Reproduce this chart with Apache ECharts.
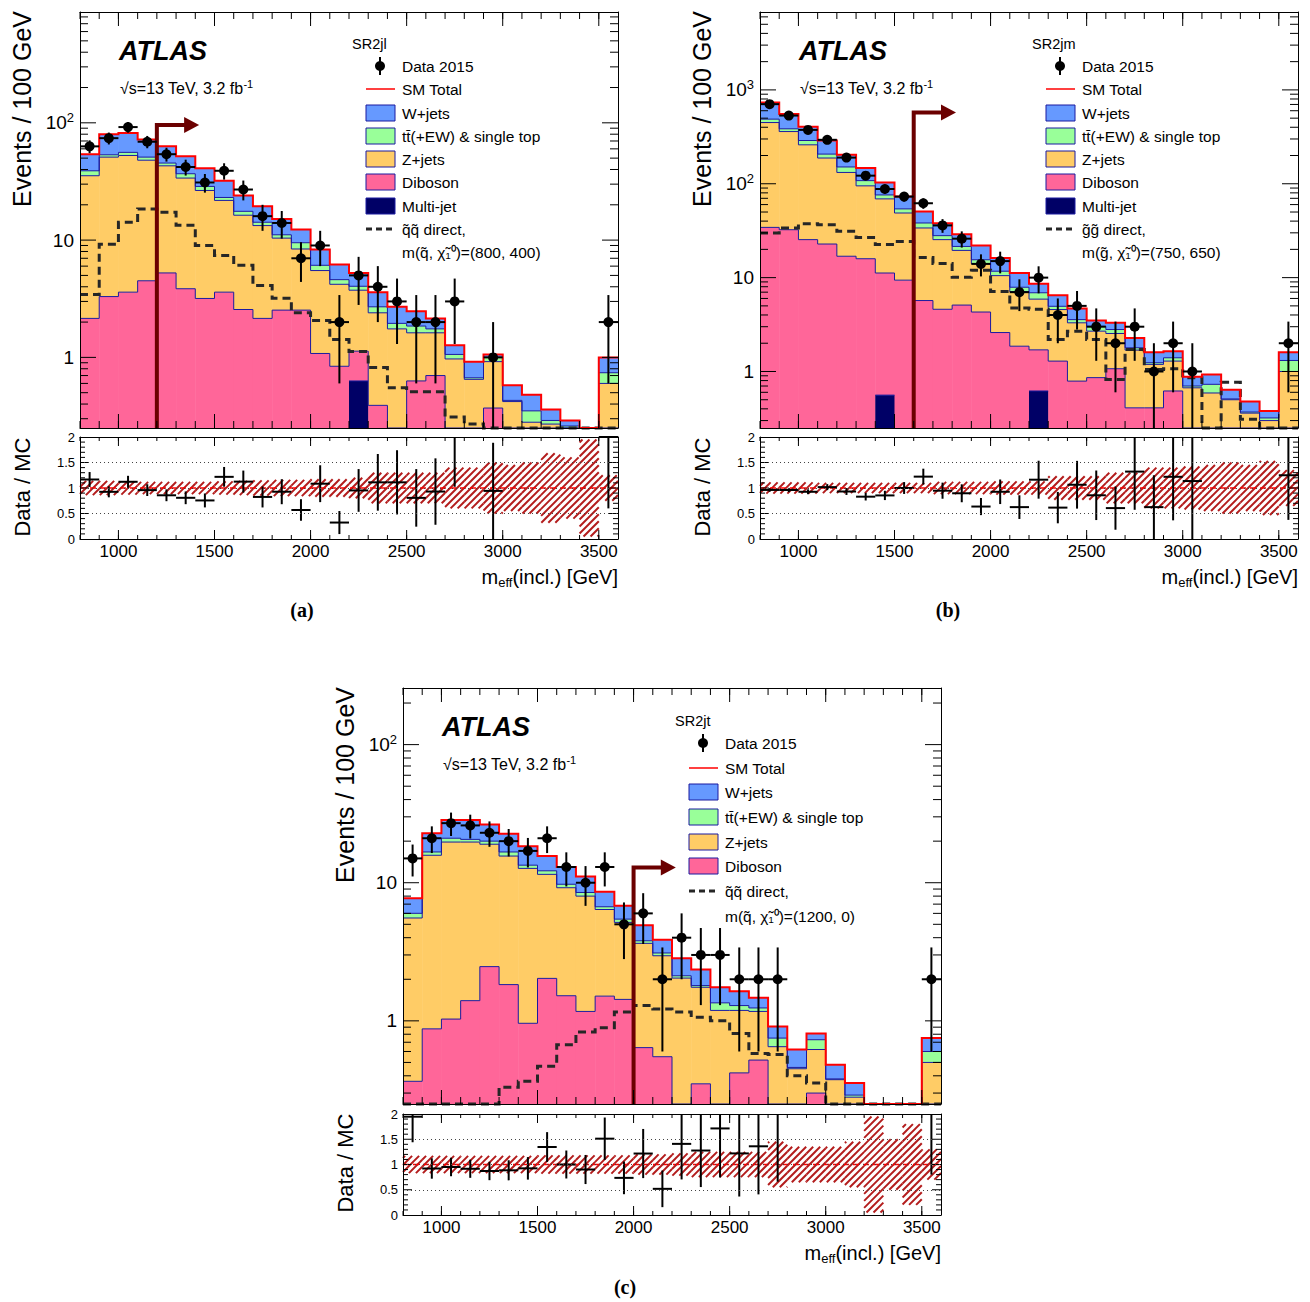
<!DOCTYPE html>
<html><head><meta charset="utf-8">
<script src="https://cdn.jsdelivr.net/npm/echarts@6/dist/echarts.min.js"></script>
<style>html,body{margin:0;padding:0;background:#fff}#c{width:1310px;height:1302px}</style>
</head><body><div id="c"></div>
<script>
// ---------- binning / ticks ----------
const binLow = [800,900,1000,1100,1200,1300,1400,1500,1600,1700,1800,1900,2000,2100,2200,2300,2400,2500,2600,2700,2800,2900,3000,3100,3200,3300,3400,3500];
const binWidth = 100;
const xTickLabels = [1000,1500,2000,2500,3000,3500];
const ratioTickLabels = [0,0.5,1,1.5,2];

// ---------- (a) SR2jl ----------
const a_data = [63,74,92,69,54,42,31,39,27,16,14,7,9,2,5,4,3,2,2,3,0,1,0,0,0,0,0,2];
const a_dataErr = [7.9,8.6,9.6,8.3,7.3,6.5,5.6,6.2,5.2,4,3.7,2.6,3,1.4,2.2,2,1.7,1.4,1.4,1.7,0,1,0,0,0,0,0,1.4];
const a_wjets = [15,26.6,26,21,17.6,15.2,12.3,8.9,6.4,5.2,4.0,2.8,2.2,1.6,1.21,0.9,0.75,0.63,0.4,0.21,0.25,0.06,0.15,0.13,0.07,0.03,0.04,0.26];
const a_ttbar = [3.6,2.4,3.3,3,2.4,3,2.2,1.3,1.3,0.9,0.7,1.1,0.6,0.4,0.3,0.3,0.2,0.23,0.13,0.09,0.02,0.08,0.01,0.07,0.02,0.01,0,0.14];
const a_zjets = [33.25,47.7,49.1,43.5,37.75,29.95,23.32,18.2,13.74,11.15,7.87,5.87,4.42,3.36,2.61,2.01,1.75,0.99,0.92,0.97,0.65,0.55,0.42,0.28,0.27,0.25,0.2,0.6];
const a_diboson = [2.15,3.3,3.6,4.5,5.25,3.85,3.18,3.6,2.56,2.15,2.53,2.53,1.08,0.84,0.5,0.39,0,0.63,0.7,0,0,0.37,0,0,0,0,0,0];
const a_multijet = [0,0,0,0,0,0,0,0,0,0,0,0,0,0,0.63,0,0,0,0,0,0,0,0,0,0,0,0,0];
const a_signal = [3.44,9.2,14.2,18.4,17.3,13.4,9.0,7.4,6.1,4.1,3.2,2.4,2.06,1.42,1.12,0.82,0.55,0.51,0.51,0.31,0.27,0.24,0.2,0.2,0.2,0.2,0.2,0.2];
const a_bandHalf = [0.14,0.14,0.13,0.12,0.12,0.12,0.12,0.13,0.14,0.15,0.16,0.16,0.17,0.17,0.2,0.3,0.3,0.3,0.3,0.4,0.4,0.5,0.45,0.5,0.68,0.6,0.95,0.25];
const a_cut = 1200, a_arrowTop = 96;

// ---------- (b) SR2jm ----------
const b_data = [705,533,375,294,190,122,88,73,62,36,26,14,15,7,10,4,5,3,2,3,1,2,1,0,0,0,0,2];
const b_dataErr = [26.6,23.1,19.4,17.1,13.8,11,9.4,8.5,7.9,6,5.1,3.7,3.9,2.6,3.2,2,2.2,1.7,1.4,1.7,1,1.4,1,0,0,0,0,1.4];
const b_wjets = [245,170,116,82,53,39,27,19,12.5,10,7.5,6.5,4.5,3.3,1.7,1.55,1.13,0.47,0.5,0.48,0.36,0.24,0.18,0.2,0.13,0.11,0.06,0.29];
const b_ttbar = [39,25,29,19,19,13,7,5.2,4.4,2.6,2,1.4,1.2,0.8,1.0,0.38,0.27,0.34,0.26,0.1,0.05,0.11,0.03,0.14,0.01,0.01,0.02,0.31];
const b_zjets = [414.7,327.6,234.6,165.2,115.1,79.1,57.8,39.4,28.1,20.8,14.4,9.8,7.9,5.24,4.2,3.28,2.51,1.83,1.47,1.28,0.78,0.67,0.67,0.59,0.5,0.36,0.3,1.0];
const b_diboson = [34.3,32.4,25.4,22.8,16.9,15.9,10.64,9.4,5.7,4.6,5.1,4.3,2.6,1.86,1.08,1.29,0.79,0.86,1.07,0.41,0.41,0.62,0,0,0,0,0,0];
const b_multijet = [0,0,0,0,0,0,0.56,0,0,0,0,0,0,0,0.62,0,0,0,0,0,0,0,0,0,0,0,0,0];
const b_signal = [29.9,33.8,37.5,36.6,31.1,26.8,22.5,24.3,16.4,14.1,10.1,12,7.1,4.76,4.6,2.19,2.69,2.19,0.82,1.71,1.05,1.07,0.86,0.2,0.77,0.31,0.2,0.2];
const b_bandHalf = [0.11,0.11,0.11,0.1,0.1,0.1,0.1,0.1,0.1,0.12,0.12,0.12,0.13,0.13,0.13,0.23,0.23,0.23,0.3,0.3,0.4,0.4,0.42,0.45,0.5,0.45,0.53,0.35];
const b_cut = 1600, b_arrowTop = 574;

// ---------- (c) SR2jt ----------
const c_data = [15,21,27,26,23,20,17,21,13,10,13,5,6,2,4,3,3,2,2,2,0,0,0,0,0,0,0,2];
const c_dataErr = [3.9,4.6,5.2,5.1,4.8,4.5,4.1,4.6,3.6,3.2,3.6,2.2,2.4,1.4,2,1.7,1.7,1.4,1.4,1.4,0,0,0,0,0,0,0,1.4];
const c_wjets = [1.7,6.1,7.4,7.8,6.4,5.9,5.0,3.4,3.25,2.6,1.9,1.35,1.13,0.76,0.72,0.55,0.4,0.35,0.23,0.16,0.16,0.08,0.1,0.065,0.04,0.02,0.02,0.15];
const c_ttbar = [0.45,0.9,1.3,0.9,1.0,1.1,0.7,0.7,0.55,0.5,0.3,0.29,0.16,0.14,0.08,0.05,0.16,0.1,0.07,0.1,0.01,0.11,0.005,0.01,0,0,0,0.1];
const c_zjets = [5.19,14.93,18.67,18.3,16.53,13.77,11.74,9.47,7.68,6.83,4.89,3.73,3.0,2.41,2.04,1.4,1.19,0.77,0.65,0.65,0.45,0.32,0.375,0.28,0.2,0.2,0.2,0.5];
const c_diboson = [0.365,0.875,1.03,1.4,2.47,1.83,0.96,2.03,1.52,1.17,1.51,1.43,0.64,0.55,0,0.35,0,0.42,0.52,0,0,0.3,0,0,0,0,0,0];
const c_multijet = [0,0,0,0,0,0,0,0,0,0,0,0,0,0,0,0,0,0,0,0,0,0,0,0,0,0,0,0];
const c_signal = [0.2,0.2,0.2,0.2,0.2,0.33,0.365,0.47,0.67,0.83,0.89,1.16,1.29,1.22,1.16,1.06,1.0,0.81,0.58,0.57,0.4,0.355,0.2,0.2,0.2,0.2,0.2,0.2];
const c_bandHalf = [0.17,0.17,0.17,0.17,0.17,0.17,0.17,0.18,0.18,0.18,0.18,0.18,0.2,0.2,0.22,0.25,0.25,0.25,0.25,0.45,0.35,0.35,0.35,0.45,0.95,0.5,0.8,0.3];
const c_cut = 2000, c_arrowTop = 12.9;

// ---------- styles ----------
const FONT = "'Liberation Sans', Arial, Helvetica, sans-serif";
const COL = {w:'#6699ff', tt:'#99ff99', z:'#ffcc66', db:'#ff6699', mj:'#000066', edge:'#1a1aa0', total:'#ff0000', arrow:'#6b0000', sig:'#262626', hatch:'#b31c1c'};
const YMIN = 0.25;
const ARROW_LEN = 220;

const panels = [
  {left:80, top:12, w:538, h:416, rTop:437, rH:102, ymax:881,
   data:a_data, err:a_dataErr, comps:[a_multijet,a_diboson,a_zjets,a_ttbar,a_wjets], signal:a_signal, band:a_bandHalf, cut:a_cut, arrowTop:a_arrowTop},
  {left:760, top:12, w:538, h:416, rTop:437, rH:102, ymax:6760,
   data:b_data, err:b_dataErr, comps:[b_multijet,b_diboson,b_zjets,b_ttbar,b_wjets], signal:b_signal, band:b_bandHalf, cut:b_cut, arrowTop:b_arrowTop},
  {left:403, top:688, w:538, h:416, rTop:1114, rH:101, ymax:257,
   data:c_data, err:c_dataErr, comps:[c_multijet,c_diboson,c_zjets,c_ttbar,c_wjets], signal:c_signal, band:c_bandHalf, cut:c_cut, arrowTop:c_arrowTop}
];

function clampY(v, p){ return Math.min(p.ymax, Math.max(YMIN, v)); }
function clampR(v){ return Math.min(2, Math.max(0, v)); }
function totals(p){ return binLow.map((_, i) => p.comps.reduce((s, c) => s + c[i], 0)); }
function stepPoints(api, vals, fy){
  const pts = [];
  for (let i = 0; i < binLow.length; i++) {
    const a = api.coord([binLow[i], fy(vals[i])]);
    const b = api.coord([binLow[i] + binWidth, fy(vals[i])]);
    pts.push(a, b);
  }
  return pts;
}
function custom(xi, yi, z, fn){
  return {type:'custom', xAxisIndex:xi, yAxisIndex:yi, z, silent:true, animation:false,
    data:[[1000,1]], encode:{x:0,y:1},
    renderItem:(params, api) => ({type:'group', children: fn(api, params)})};
}
function L(out, x1, y1, x2, y2, stroke, w){ out.push({type:'line', shape:{x1,y1,x2,y2}, style:{stroke, lineWidth:w}}); }

function mainSeries(p, xi, yi){
  const tot = totals(p);
  const fy = v => clampY(v, p);
  const s = [];
  s.push(custom(xi, yi, 2, (api) => {
    const out = [], cols = [COL.mj, COL.db, COL.z, COL.tt, COL.w];
    for (let i = 0; i < binLow.length; i++) {
      let base = 0;
      for (let c = 0; c < 5; c++) {
        const v = p.comps[c][i], top = base + v;
        if (v > 0 && top > YMIN) {
          const a = api.coord([binLow[i], fy(base)]), b = api.coord([binLow[i] + binWidth, fy(top)]);
          out.push({type:'rect', shape:{x:a[0], y:b[1], width:b[0]-a[0]+0.5, height:a[1]-b[1]}, style:{fill:cols[c]}});
        }
        base = top;
      }
    }
    return out;
  }));
  s.push(custom(xi, yi, 3, (api) => {
    const out = [];
    for (let lev = 1; lev < 4; lev++) {
      const cum = binLow.map((_, i) => { let t = 0; for (let c = 0; c <= lev; c++) t += p.comps[c][i]; return t; });
      out.push({type:'polyline', shape:{points: stepPoints(api, cum, fy)}, style:{stroke:COL.edge, lineWidth:1, fill:null}});
    }
    const mj = p.comps[0];
    for (let i = 0; i < binLow.length; i++) if (mj[i] > 0) {
      const a = api.coord([binLow[i], fy(mj[i])]), b = api.coord([binLow[i]+binWidth, fy(mj[i])]);
      L(out, a[0], a[1], b[0], b[1], COL.edge, 1);
    }
    return out;
  }));
  s.push(custom(xi, yi, 4, (api) => [{type:'polyline', shape:{points: stepPoints(api, p.signal, fy)},
    style:{stroke:COL.sig, lineWidth:3, lineDash:[8,5], fill:null}}]));
  s.push(custom(xi, yi, 5, (api) => [{type:'polyline', shape:{points: stepPoints(api, tot, fy)},
    style:{stroke:COL.total, lineWidth:2, fill:null}}]));
  s.push(custom(xi, yi, 6, (api) => {
    const b0 = api.coord([p.cut, YMIN]), t0 = api.coord([p.cut, p.arrowTop]), e = api.coord([p.cut + ARROW_LEN, p.arrowTop]);
    return [
      {type:'polyline', shape:{points:[b0, t0, [e[0]-14, e[1]]]}, style:{stroke:COL.arrow, lineWidth:4, fill:null, lineJoin:'miter'}},
      {type:'polygon', shape:{points:[[e[0]-15, e[1]-8], [e[0], e[1]], [e[0]-15, e[1]+8]]}, style:{fill:COL.arrow}}
    ];
  }));
  s.push(custom(xi, yi, 7, (api) => {
    const out = [];
    for (let i = 0; i < binLow.length; i++) {
      const d = p.data[i]; if (!(d > 0)) continue;
      const e = p.err[i];
      const lo = d - e > YMIN ? d - e : YMIN;
      const c0 = api.coord([binLow[i] + binWidth/2, fy(lo)]), c1 = api.coord([binLow[i] + binWidth/2, fy(d + e)]);
      const h0 = api.coord([binLow[i], fy(d)]), h1 = api.coord([binLow[i] + binWidth, fy(d)]);
      L(out, c0[0], c0[1], c1[0], c1[1], '#000', 2);
      L(out, h0[0], h0[1], h1[0], h1[1], '#000', 2);
      out.push({type:'circle', shape:{cx:(h0[0]+h1[0])/2, cy:h0[1], r:5}, style:{fill:'#000'}});
    }
    return out;
  }));
  s.push(custom(xi, yi, 8, (api, params) => {
    const cs = params.coordSys, out = [];
    const top = cs.y, bot = cs.y + cs.height, left = cs.x, right = cs.x + cs.width;
    binLow.forEach(x => { const px = api.coord([x, 1])[0]; L(out, px, bot, px, bot-7, '#000', 1); L(out, px, top, px, top+7, '#000', 1); });
    xTickLabels.forEach(x => { const px = api.coord([x, 1])[0]; L(out, px, bot, px, bot-14, '#000', 1); L(out, px, top, px, top+14, '#000', 1); });
    for (let d = -1; d <= 4; d++) for (let m = 1; m <= 9; m++) {
      const v = m * Math.pow(10, d); if (v <= YMIN || v >= p.ymax) continue;
      const py = api.coord([1000, v])[1], len = m === 1 ? 16 : 8;
      L(out, left, py, left+len, py, '#000', 1); L(out, right, py, right-len, py, '#000', 1);
    }
    return out;
  }));
  return s;
}

function hatchRect(out, x0, y0, x1, y1, sp, color){
  const cStart = Math.ceil((x0 + y0) / sp) * sp, cEnd = x1 + y1;
  for (let c = cStart; c <= cEnd; c += sp) {
    const xa = Math.max(x0, c - y1), xb = Math.min(x1, c - y0);
    if (xb > xa) L(out, xa, c - xa, xb, c - xb, color, 2);
  }
}

function ratioSeries(p, xi, yi){
  const tot = totals(p);
  const s = [];
  s.push(custom(xi, yi, 2, (api) => {
    const out = [];
    for (let i = 0; i < binLow.length; i++) {
      const h = p.band[i];
      const a = api.coord([binLow[i], clampR(1 + h)]), b = api.coord([binLow[i] + binWidth, clampR(1 - h)]);
      hatchRect(out, a[0], a[1], b[0], b[1], 7, COL.hatch);
    }
    const l0 = api.coord([binLow[0], 1]), l1 = api.coord([binLow[binLow.length-1] + binWidth, 1]);
    out.push({type:'line', shape:{x1:l0[0], y1:l0[1], x2:l1[0], y2:l1[1]}, style:{stroke:'#ff0000', lineWidth:1.5, lineDash:[6,4]}});
    return out;
  }));
  s.push(custom(xi, yi, 4, (api) => {
    const out = [];
    for (let i = 0; i < binLow.length; i++) {
      const d = p.data[i]; if (!(d > 0)) continue;
      const r = d / tot[i], e = p.err[i] / tot[i];
      const lo = clampR(r - e), hi = clampR(r + e);
      const xc = binLow[i] + binWidth / 2;
      if (hi > lo) { const a = api.coord([xc, lo]), b = api.coord([xc, hi]); L(out, a[0], a[1], b[0], b[1], '#000', 2); }
      if (r <= 2) { const a = api.coord([binLow[i], r]), b = api.coord([binLow[i] + binWidth, r]); L(out, a[0], a[1], b[0], b[1], '#000', 2); }
    }
    return out;
  }));
  s.push(custom(xi, yi, 8, (api, params) => {
    const cs = params.coordSys, out = [];
    const top = cs.y, bot = cs.y + cs.height, left = cs.x, right = cs.x + cs.width;
    binLow.forEach(x => { const px = api.coord([x, 1])[0]; L(out, px, bot, px, bot-4, '#000', 1); L(out, px, top, px, top+4, '#000', 1); });
    xTickLabels.forEach(x => { const px = api.coord([x, 1])[0]; L(out, px, bot, px, bot-9, '#000', 1); L(out, px, top, px, top+9, '#000', 1); });
    for (let k = 1; k < 20; k++) {
      const v = k / 10, py = api.coord([1000, v])[1], len = (k % 5 === 0) ? 9 : 5;
      L(out, left, py, left+len, py, '#000', 1); L(out, right, py, right-len, py, '#000', 1);
    }
    return out;
  }));
  return s;
}

function xAxisDef(gi, pos, labels){
  return {gridIndex:gi, type:'value', position:pos, min:800, max:3600, interval:100, z:10,
    axisLine:{show:true, onZero:false, lineStyle:{color:'#000', width:1}}, axisTick:{show:false}, splitLine:{show:false},
    axisLabel:{show:labels, color:'#000', fontSize:17, fontFamily:FONT, margin:4, showMinLabel:false, showMaxLabel:false,
      formatter:(v) => xTickLabels.indexOf(Math.round(v)) >= 0 ? String(Math.round(v)) : ''}};
}
function yLogDef(gi, pos, labels, ymax){
  return {gridIndex:gi, type:'log', logBase:10, position:pos, min:YMIN, max:ymax, z:10,
    axisLine:{show:true, onZero:false, lineStyle:{color:'#000', width:1}}, axisTick:{show:false}, splitLine:{show:false},
    axisLabel:{show:labels, color:'#000', fontSize:19, fontFamily:FONT, margin:6,
      rich:{b:{fontSize:19, fontFamily:FONT, color:'#000'}, s:{fontSize:13, fontFamily:FONT, color:'#000', padding:[0,0,10,0]}},
      formatter:(v) => { const l = Math.log10(v), n = Math.round(l); if (Math.abs(l - n) > 1e-6) return '';
        return n === 0 ? '1' : n === 1 ? '10' : (n >= 2 && n <= 3) ? '{b|10}{s|' + n + '}' : ''; }}};
}
function yRatioDef(gi, pos, labels){
  return {gridIndex:gi, type:'value', position:pos, min:0, max:2, interval:0.5, z:10,
    axisLine:{show:true, onZero:false, lineStyle:{color:'#000', width:1}}, axisTick:{show:false},
    splitLine:{show:labels, lineStyle:{color:'#444', width:1, type:[1,3]}},
    axisLabel:{show:labels, color:'#000', fontSize:13, fontFamily:FONT, margin:5,
      formatter:(v) => ratioTickLabels.indexOf(v) >= 0 ? String(v) : ''}};
}

const grids = [], xAxes = [], yAxes = [], series = [];
panels.forEach(p => {
  const gm = grids.length; grids.push({left:p.left, top:p.top, width:p.w, height:p.h, containLabel:false});
  const gr = grids.length; grids.push({left:p.left, top:p.rTop, width:p.w, height:p.rH, containLabel:false});
  const xm = xAxes.length; xAxes.push(xAxisDef(gm, 'bottom', false), xAxisDef(gm, 'top', false));
  const xr = xAxes.length; xAxes.push(xAxisDef(gr, 'bottom', true), xAxisDef(gr, 'top', false));
  const ym = yAxes.length; yAxes.push(yLogDef(gm, 'left', true, p.ymax), yLogDef(gm, 'right', false, p.ymax));
  const yr = yAxes.length; yAxes.push(yRatioDef(gr, 'left', true), yRatioDef(gr, 'right', false));
  series.push(...mainSeries(p, xm, ym), ...ratioSeries(p, xr, yr));
});

// ---------- text & legends ----------
function T(x, y, text, size, o = {}){
  return {type:'text', x, y, rotation:o.rot || 0, z:100, silent:true,
    style:{text, fontSize:size, fontFamily:o.family || FONT, fontWeight:o.weight || 'normal', fontStyle:o.style || 'normal',
      fill:'#000', align:o.align || 'left', verticalAlign:o.valign || 'middle', rich:o.rich}};
}
const graphics = [];
function xTitle(x, y){
  graphics.push(T(x, y, '{m|m}{s|eff}{m|(incl.) [GeV]}', 20, {align:'right',
    rich:{m:{fontSize:20, fontFamily:FONT, fill:'#000'}, s:{fontSize:13, fontFamily:FONT, fill:'#000', padding:[11,0,0,0]}}}));
}
function energyText(x, y){
  graphics.push(T(x, y, '{t|√s=13 TeV, 3.2 fb}{s|-1}', 16, {
    rich:{t:{fontSize:16, fontFamily:FONT, fill:'#000'}, s:{fontSize:11, fontFamily:FONT, fill:'#000', padding:[0,0,9,0]}}}));
}
function legendBlock(region, x0, titleX, rows, entries){
  graphics.push(T(titleX, rows[0] - 22, region, 14.5));
  entries.forEach((e, k) => {
    const y = rows[k], kind = e[0], label = e[1];
    if (kind === 'data') {
      graphics.push({type:'line', z:100, shape:{x1:x0+14, y1:y-9, x2:x0+14, y2:y+9}, style:{stroke:'#000', lineWidth:2}});
      graphics.push({type:'circle', z:100, shape:{cx:x0+14, cy:y, r:5}, style:{fill:'#000'}});
    } else if (kind === 'line') {
      graphics.push({type:'line', z:100, shape:{x1:x0, y1:y, x2:x0+29, y2:y}, style:{stroke:COL.total, lineWidth:1.5}});
    } else if (kind === 'dash') {
      graphics.push({type:'line', z:100, shape:{x1:x0, y1:y, x2:x0+29, y2:y}, style:{stroke:COL.sig, lineWidth:3, lineDash:[6,4]}});
    } else if (kind !== 'none') {
      graphics.push({type:'rect', z:100, shape:{x:x0, y:y-8, width:29, height:16}, style:{fill:COL[kind], stroke:COL.edge, lineWidth:1}});
    }
    graphics.push(T(x0 + 36, y, label, 15.5));
  });
}
const SERIF = "'Liberation Serif', 'Times New Roman', serif";
// panel a
graphics.push(T(119, 51, 'ATLAS', 27, {weight:'bold', style:'italic'}));
energyText(120, 88);
legendBlock('SR2jl', 366, 352, [66,89,113,136,159,182,206,229,252], [
  ['data','Data 2015'],['line','SM Total'],['w','W+jets'],['tt','tt̄(+EW) & single top'],['z','Z+jets'],['db','Diboson'],['mj','Multi-jet'],
  ['dash','q̃q̃ direct,'],['none','m(q̃, χ̃₁⁰)=(800, 400)']]);
graphics.push(T(22, 11, 'Events / 100 GeV', 25, {rot:Math.PI/2, align:'right'}));
graphics.push(T(22, 487, 'Data / MC', 22, {rot:Math.PI/2, align:'center'}));
xTitle(618, 577);
graphics.push(T(302, 610, '(a)', 20, {weight:'bold', family:SERIF, align:'center'}));
// panel b
graphics.push(T(799, 51, 'ATLAS', 27, {weight:'bold', style:'italic'}));
energyText(800, 88);
legendBlock('SR2jm', 1046, 1032, [66,89,113,136,159,182,206,229,252], [
  ['data','Data 2015'],['line','SM Total'],['w','W+jets'],['tt','tt̄(+EW) & single top'],['z','Z+jets'],['db','Diboson'],['mj','Multi-jet'],
  ['dash','g̃g̃ direct,'],['none','m(g̃, χ̃₁⁰)=(750, 650)']]);
graphics.push(T(702, 11, 'Events / 100 GeV', 25, {rot:Math.PI/2, align:'right'}));
graphics.push(T(702, 487, 'Data / MC', 22, {rot:Math.PI/2, align:'center'}));
xTitle(1298, 577);
graphics.push(T(948, 610, '(b)', 20, {weight:'bold', family:SERIF, align:'center'}));
// panel c
graphics.push(T(442, 727, 'ATLAS', 27, {weight:'bold', style:'italic'}));
energyText(443, 764);
legendBlock('SR2jt', 689, 675, [743,768,792,817,842,866,891,916], [
  ['data','Data 2015'],['line','SM Total'],['w','W+jets'],['tt','tt̄(+EW) & single top'],['z','Z+jets'],['db','Diboson'],
  ['dash','q̃q̃ direct,'],['none','m(q̃, χ̃₁⁰)=(1200, 0)']]);
graphics.push(T(345, 687, 'Events / 100 GeV', 25, {rot:Math.PI/2, align:'right'}));
graphics.push(T(345, 1163, 'Data / MC', 22, {rot:Math.PI/2, align:'center'}));
xTitle(941, 1253);
graphics.push(T(625, 1287, '(c)', 20, {weight:'bold', family:SERIF, align:'center'}));

const chart = echarts.init(document.getElementById('c'), null, {renderer:'svg', width:1310, height:1302});
chart.setOption({
  backgroundColor:'#ffffff',
  animation:false,
  grid: grids, xAxis: xAxes, yAxis: yAxes, series,
  graphic: graphics
});
</script>
</body></html>
